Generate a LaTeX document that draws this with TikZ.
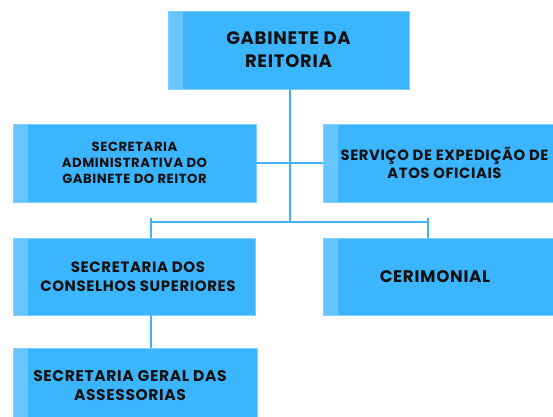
\documentclass[tikz,border=0pt]{standalone}
\usepackage{fontspec}
\setmainfont{Poppins}[LetterSpace=4]
\definecolor{boxblue}{RGB}{59,181,253}
\definecolor{stripblue}{RGB}{104,197,255}
\definecolor{edgeblue}{RGB}{130,206,255}
\definecolor{lineblue}{RGB}{66,178,244}
\definecolor{txt}{RGB}{17,17,17}
\tikzset{
  orgbox/.style={draw=edgeblue, line width=0.8pt, fill=boxblue, inner sep=0pt,
    align=center, text=txt,
    path picture={\fill[stripblue] (path picture bounding box.north west) rectangle ([xshift=15pt]path picture bounding box.south west);}},
  conn/.style={draw=lineblue, line width=2pt},
}
\begin{document}
\begin{tikzpicture}[x=1pt,y=-1pt]
\useasboundingbox (0,0) rectangle (553,416);
\clip (0,0) rectangle (553,416);
\node[orgbox, minimum width=241pt, minimum height=78pt, font=\bfseries\fontsize{18}{23}\selectfont] (g) at (288.5,50) {GABINETE DA\\REITORIA};
\node[orgbox, minimum width=243pt, minimum height=78pt, font=\bfseries\fontsize{13.2}{16}\selectfont] (sa) at (134.5,163) {SECRETARIA\\ADMINISTRATIVA DO\\GABINETE DO REITOR};
\node[orgbox, minimum width=243pt, minimum height=78pt, font=\bfseries\fontsize{14.8}{18}\selectfont] (se) at (444.5,163) {SERVIÇO DE EXPEDIÇÃO DE\\ATOS OFICIAIS};
\node[orgbox, minimum width=242pt, minimum height=77pt, font=\bfseries\fontsize{15}{18.5}\selectfont] (sc) at (134,276.5) {\hspace*{8pt}SECRETARIA DOS\\\hspace*{8pt}CONSELHOS SUPERIORES};
\node[orgbox, minimum width=247pt, minimum height=77pt, font=\bfseries\fontsize{16.8}{18}\selectfont] (ce) at (446.5,276.5) {\hspace*{-23pt}CERIMONIAL};
\node[orgbox, minimum width=244pt, minimum height=76pt, font=\bfseries\fontsize{15.5}{19}\selectfont] (sg) at (135,386) {\hspace*{-10pt}SECRETARIA GERAL DAS\\\hspace*{-10pt}ASSESSORIAS};
\coordinate (j1) at (290,163);
\coordinate (j2) at (290,222);
\coordinate (l) at (151,222);
\coordinate (r) at (428,222);
\coordinate (lt) at (151,218);
\coordinate (rt) at (428,218);
\draw[conn] (g.south -| j1) -- (j2);
\draw[conn] (sa.east) -- (se.west);
\draw[conn] (l) -- (r);
\draw[conn] (lt) -- (sc.north -| lt);
\draw[conn] (rt) -- (ce.north -| rt);
\draw[conn] (sc.south -| lt) -- (sg.north -| lt);
\end{tikzpicture}
\end{document}
